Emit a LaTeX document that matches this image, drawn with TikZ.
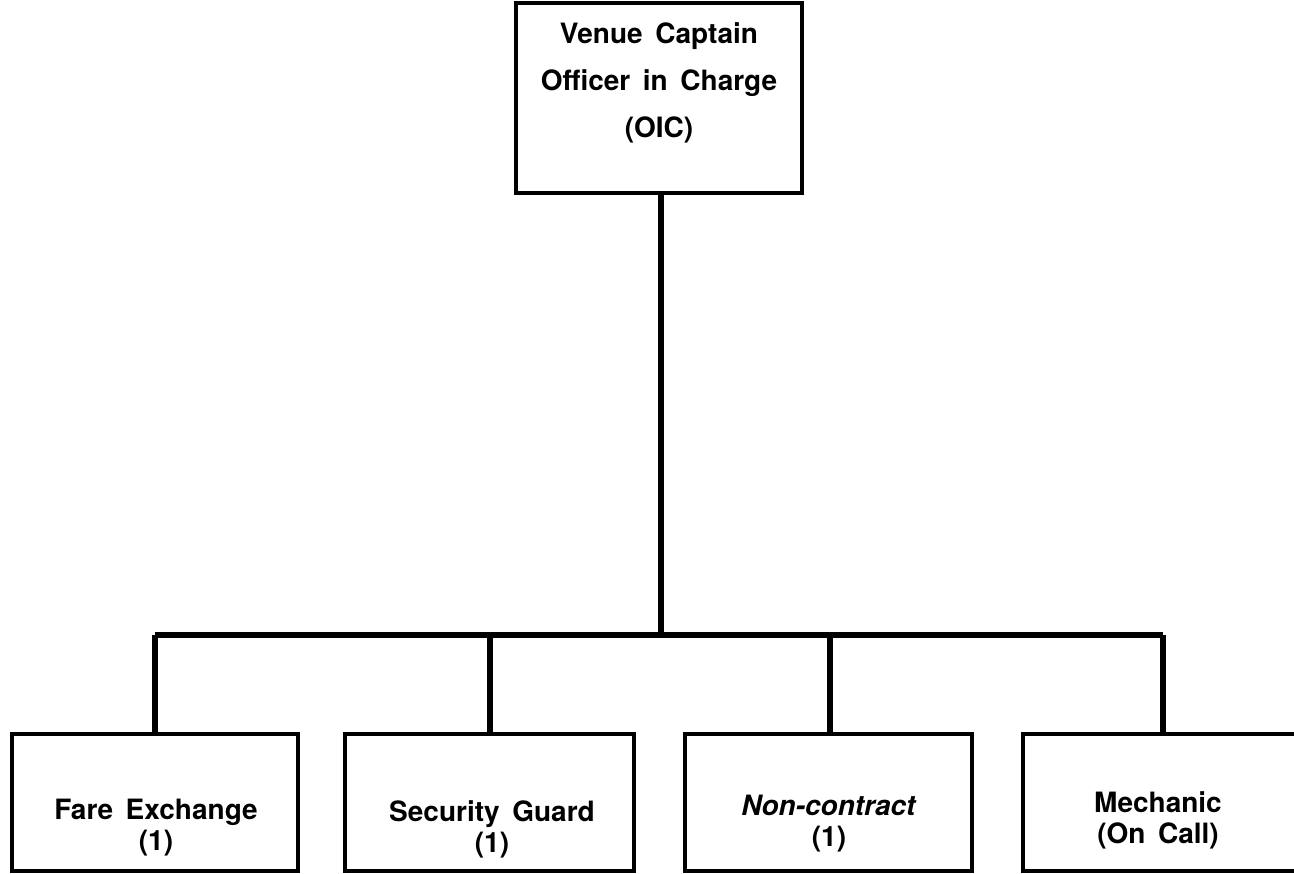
\documentclass[tikz,border=0pt]{standalone}
\usepackage{fontspec}
\setmainfont{TeX Gyre Heros}
\newcommand{\wsp}{\hspace{0.45em}}
\begin{document}
\begin{tikzpicture}[x=1pt,y=-1pt,
  box/.style={draw=black,line width=4pt,fill=white},
  link/.style={draw=black,line width=6pt},
  lbl/.style={font=\fontsize{28}{31}\selectfont\bfseries,align=center,inner sep=0pt}]
\useasboundingbox (0,0) rectangle (1294,874);
% top box
\draw[box] (516,3) rectangle (802,193);
\node[lbl,font=\fontsize{28}{47}\selectfont\bfseries] (oic) at (659,83) {Venue\wsp Captain\\Officer\wsp in\wsp Charge\\(OIC)};
\coordinate (top) at (661,193);
% branch bar
\coordinate (hub) at (661,635);
\coordinate (bl) at (155,635);
\coordinate (br) at (1163,635);
\draw[link] (top) -- (hub);
\draw[link,line join=miter] (bl) -- (br);
% bottom boxes
\draw[box] (12,734) rectangle (298,871);
\draw[box] (345,734) rectangle (634,871);
\draw[box] (685,734) rectangle (972,871);
\draw[box] (1023,734) rectangle (1300,871);
\coordinate (d1) at (155,734);
\coordinate (d2) at (490,734);
\coordinate (d3) at (830,734);
\coordinate (d4) at (1163,734);
\draw[link] (bl) -- (d1);
\draw[link] (490,635) -- (d2);
\draw[link] (830,635) -- (d3);
\draw[link] (br) -- (d4);
\node[lbl] (fare) at (156,828) {Fare\wsp Exchange\\(1)};
\node[lbl] (sec) at (492,829) {Security\wsp Guard\\(1)};
\node[lbl] (non) at (829,824) {\textit{Non-contract}\\(1)};
\node[lbl] (mech) at (1158,820) {Mechanic\\(On\wsp Call)};
\end{tikzpicture}
\end{document}
